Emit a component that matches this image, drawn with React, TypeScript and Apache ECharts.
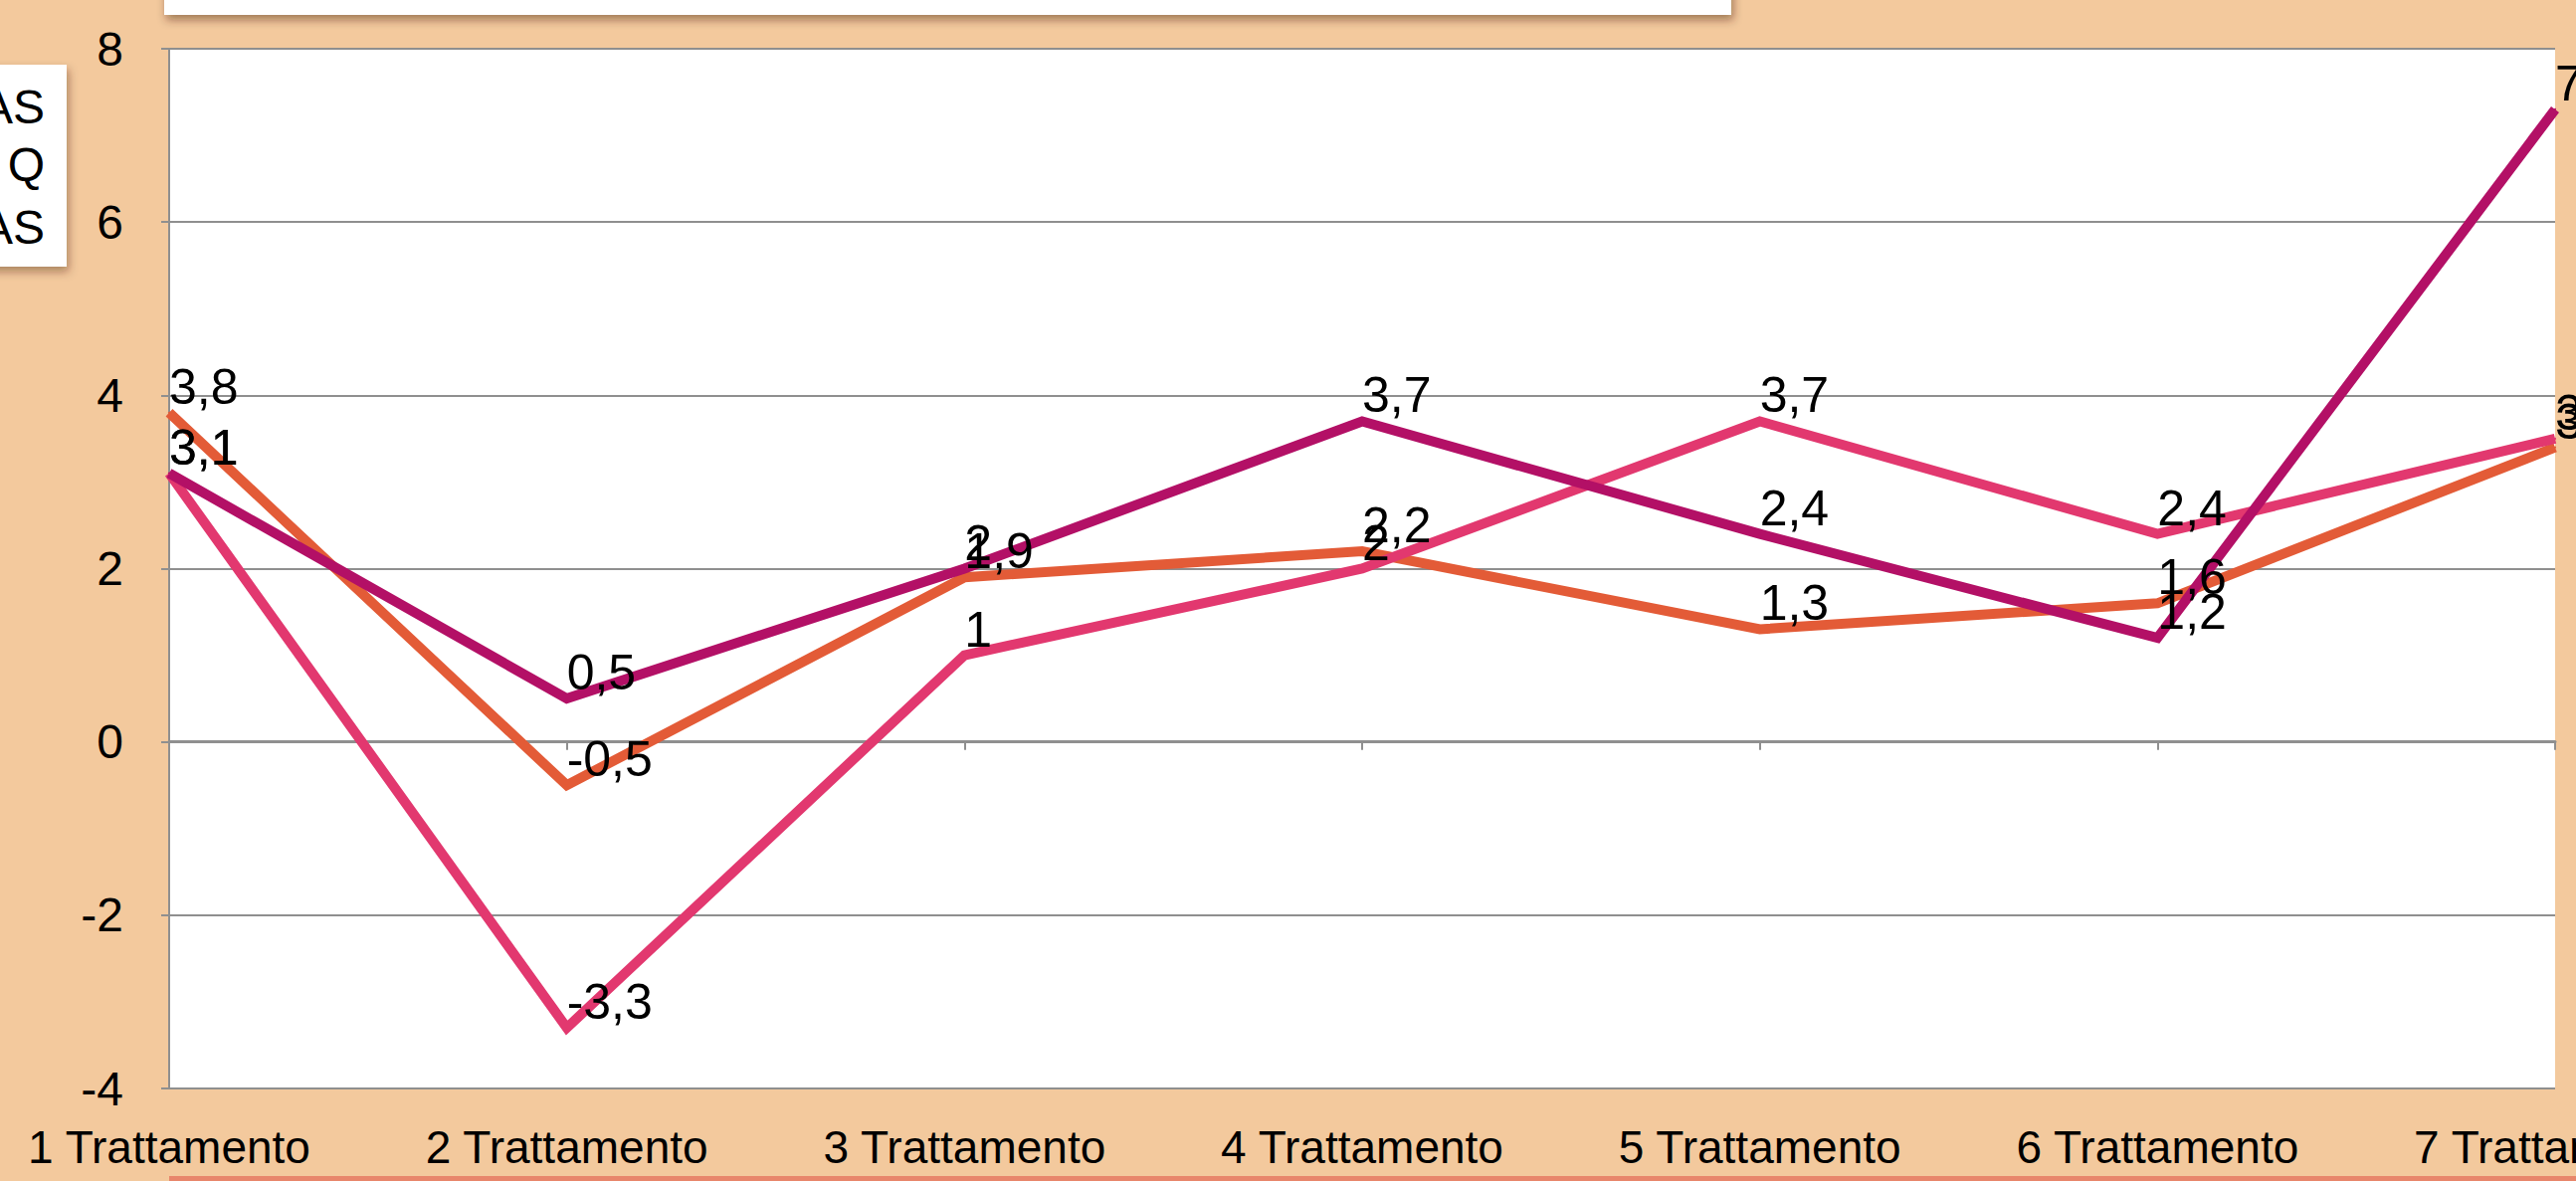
import React, { useEffect, useRef } from "react";
import * as echarts from "echarts";

const categories = [
  "1 Trattamento",
  "2 Trattamento",
  "3 Trattamento",
  "4 Trattamento",
  "5 Trattamento",
  "6 Trattamento",
  "7 Trattamento",
];
const seriesOrange = [3.8, -0.5, 1.9, 2.2, 1.3, 1.6, 3.4];
const seriesPink = [3.1, -3.3, 1, 2, 3.7, 2.4, 3.5];
const seriesMagenta = [3.1, 0.5, 2, 3.7, 2.4, 1.2, 7.3];
const legendTexts = ["AS", "Q", "AS"];

const W = 2589;
const H = 1187;
const FONT = "'Liberation Sans', Arial, Helvetica, sans-serif";

export default function App() {
  const ref = useRef<HTMLDivElement>(null);
  useEffect(() => {
    document.body.style.margin = "0";
    const chart = echarts.init(ref.current!, null, { renderer: "svg" });
    const mkSeries = (name: string, data: number[], color: string) => ({
      name,
      type: "line",
      data,
      symbol: "circle",
      symbolSize: 2,
      showSymbol: true,
      lineStyle: { color, width: 10, join: "miter" },
      itemStyle: { color },
      label: {
        show: true,
        position: "top",
        align: "left",
        verticalAlign: "bottom",
        distance: 0,
        offset: [4, -10],
        color: "#000",
        fontSize: 50,
        fontFamily: FONT,
        formatter: (p: any) => String(p.value).replace(".", ","),
      },
      labelLayout: { hideOverlap: false },
      emphasis: { disabled: true },
    });
    chart.setOption({
      animation: false,
      backgroundColor: "#F3C99D",
      textStyle: { fontFamily: FONT },
      grid: {
        left: 170,
        right: 21,
        top: 49,
        bottom: 93,
        show: true,
        backgroundColor: "#ffffff",
        borderWidth: 0,
        containLabel: false,
        outerBoundsMode: "none",
      },
      xAxis: {
        type: "category",
        data: categories,
        boundaryGap: false,
        axisLine: { show: true, lineStyle: { color: "#8f8f8f", width: 3 } },
        axisTick: {
          show: true,
          alignWithLabel: true,
          length: 8,
          lineStyle: { color: "#8f8f8f", width: 2 },
        },
        axisLabel: {
          color: "#000",
          fontSize: 46,
          fontFamily: FONT,
          margin: 36,
          interval: 0,
          hideOverlap: false,
        },
        splitLine: { show: false },
      },
      yAxis: {
        type: "value",
        min: -4,
        max: 8,
        interval: 2,
        axisLine: { show: true, lineStyle: { color: "#8f8f8f", width: 2 } },
        axisTick: {
          show: true,
          length: 8,
          lineStyle: { color: "#8f8f8f", width: 2 },
        },
        axisLabel: {
          color: "#000",
          fontSize: 48,
          fontFamily: FONT,
          margin: 46,
        },
        splitLine: { show: true, lineStyle: { color: "#8f8f8f", width: 2 } },
      },
      series: [
        mkSeries("Serie 1", seriesOrange, "#E35B37"),
        mkSeries("Serie 2", seriesPink, "#E2386F"),
        mkSeries("Serie 3", seriesMagenta, "#B31066"),
      ],
      graphic: [
        {
          type: "rect",
          shape: { x: 165, y: -20, width: 1575, height: 35 },
          style: {
            fill: "#ffffff",
            shadowBlur: 10,
            shadowOffsetY: 5,
            shadowOffsetX: 2,
            shadowColor: "rgba(60,30,0,0.45)",
          },
          z: 10,
        },
        {
          type: "rect",
          shape: { x: -20, y: 65, width: 87, height: 203 },
          style: {
            fill: "#ffffff",
            shadowBlur: 10,
            shadowOffsetY: 5,
            shadowOffsetX: 2,
            shadowColor: "rgba(60,30,0,0.4)",
          },
          z: 10,
        },
        ...legendTexts.map((t, i) => ({
          type: "text",
          x: 45,
          y: [107, 165, 228][i],
          style: {
            text: t,
            fill: "#000",
            font: `48px ${FONT}`,
            textAlign: "right",
            textVerticalAlign: "middle",
          },
          z: 11,
        })),
        {
          type: "rect",
          shape: { x: 170, y: 1182, width: W - 170, height: 5 },
          style: { fill: "#E8866B" },
          z: 10,
        },
      ],
    });
    return () => chart.dispose();
  }, []);
  return (
    <div
      ref={ref}
      style={{ position: "fixed", left: 0, top: 0, width: W, height: H }}
    />
  );
}
